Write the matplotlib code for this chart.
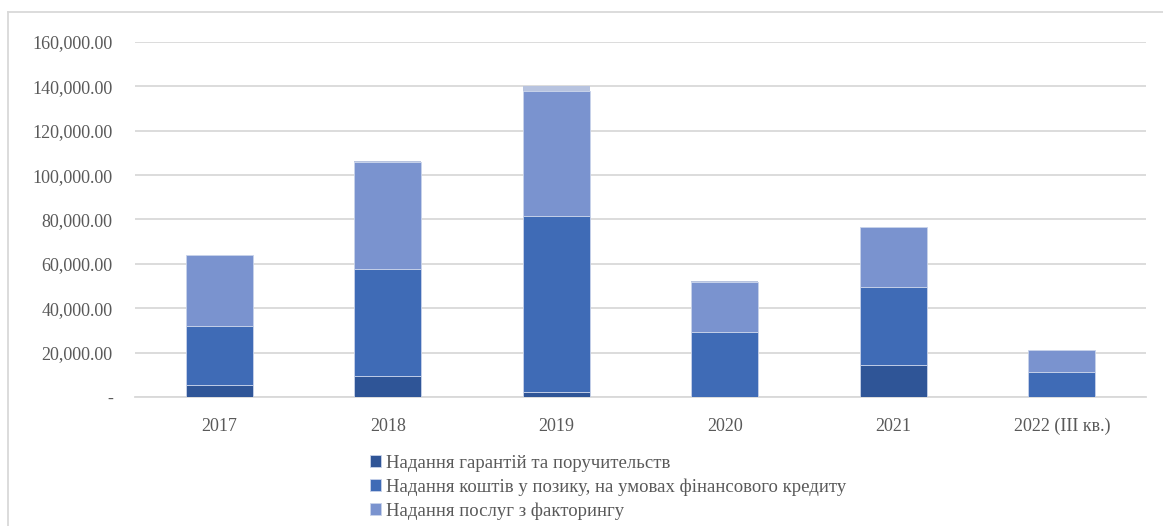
import matplotlib.pyplot as plt
from matplotlib.lines import Line2D
from matplotlib.ticker import FuncFormatter
import numpy as np

years = ["2017", "2018", "2019", "2020", "2021", "2022 (III кв.)"]
guarantees = [5300, 9500, 2100, 100, 14300, 100]
loans = [26800, 48200, 79500, 29100, 35300, 11000]
factoring = [31700, 48100, 56400, 22700, 26900, 10100]
other = [0, 500, 2200, 500, 0, 0]

labels = [
    "Надання гарантій та поручительств",
    "Надання коштів у позику, на умовах фінансового кредиту",
    "Надання послуг з факторингу",
]
colors = ["#2f5597", "#3f6bb6", "#7a93cf"]

plt.rcParams["font.family"] = ["Liberation Serif", "DejaVu Serif"]

fig = plt.figure(figsize=(11.63, 5.26), dpi=100)
ax = fig.add_axes([135 / 1163, 1 - 397 / 526, 1011 / 1163, 355 / 526])

x = np.arange(len(years))
w = 0.4
bottom = np.zeros(len(years))
handles = []
for vals, col, lab in zip([guarantees, loans, factoring], colors, labels):
    b = ax.bar(x, vals, w, bottom=bottom, color=col, edgecolor="#c9d3ea",
               linewidth=0.6, label=lab, zorder=3)
    handles.append(b)
    bottom += np.array(vals)
ax.bar(x, other, w, bottom=bottom, color="#b7c3df", linewidth=0, zorder=3)

ax.set_xlim(-0.5, len(years) - 0.5)
ax.set_ylim(0, 160000)
ax.set_yticks(np.arange(0, 160001, 20000))
ax.yaxis.set_major_formatter(FuncFormatter(lambda v, p: "-" if v == 0 else f"{v:,.2f}"))
ax.set_xticks(x)
ax.set_xticklabels(years)
ax.grid(axis="y", color="#d9d9d9", linewidth=1.3, zorder=0)
for s in ["top", "right", "left"]:
    ax.spines[s].set_visible(False)
ax.spines["bottom"].set_color("#d9d9d9")
ax.spines["bottom"].set_linewidth(1.3)
ax.tick_params(axis="both", length=0, colors="#595959", labelsize=13)
ax.tick_params(axis="x", pad=15)
ax.tick_params(axis="y", pad=16)

fig.legend(handles=handles, labels=labels, loc="upper left",
           bbox_to_anchor=(362 / 1163, 1 - 447 / 526), frameon=False,
           fontsize=13.5, labelcolor="#595959", handlelength=0.6,
           handleheight=0.6, handletextpad=0.3, labelspacing=0.35,
           borderaxespad=0)

# outer chart frame (left and top only visible in the crop)
fig.add_artist(Line2D([8 / 1163, 8 / 1163], [0, 1 - 12 / 526],
                      transform=fig.transFigure, color="#d9d9d9", linewidth=1.3))
fig.add_artist(Line2D([8 / 1163, 1], [1 - 12 / 526, 1 - 12 / 526],
                      transform=fig.transFigure, color="#d9d9d9", linewidth=1.3))

fig.savefig("out.png", dpi=100)
